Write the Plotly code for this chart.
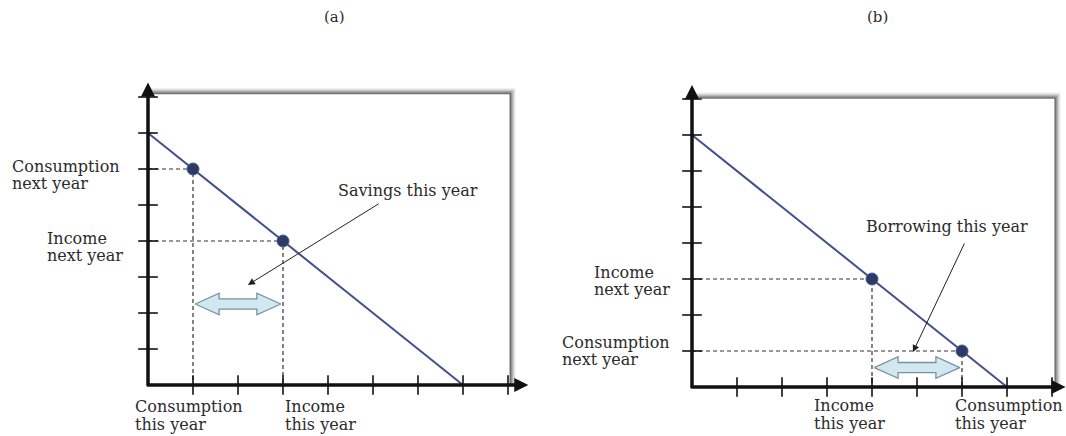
import plotly.graph_objects as go

# ---------------- data ----------------
tick_vals = [1, 2, 3, 4, 5, 6, 7, 8]

# Panel (a): saving
a_budget_x = [0, 7]
a_budget_y = [7, 0]
a_points_x = [1, 3]          # consumption this year, income this year
a_points_y = [6, 4]          # consumption next year, income next year
a_flow = [1, 3]              # savings this year (from consumption to income)
a_ylabels = ["Consumption<br>next year", "Income<br>next year"]
a_xlabels = ["Consumption<br>this year", "Income<br>this year"]
a_note = "Savings this year"

# Panel (b): borrowing
b_budget_x = [0, 7]
b_budget_y = [7, 0]
b_points_x = [4, 6]          # income this year, consumption this year
b_points_y = [3, 1]          # income next year, consumption next year
b_flow = [4, 6]              # borrowing this year
b_ylabels = ["Income<br>next year", "Consumption<br>next year"]
b_xlabels = ["Income<br>this year", "Consumption<br>this year"]
b_note = "Borrowing this year"

titles = ["(a)", "(b)"]

# ---------------- style / layout ----------------
W, H = 1066, 436
SX, SY = 45.0, 36.0
FONT = "DejaVu Serif"
TXT = "#2b2b2b"
LINE_C = "#40508f"
DOT_C = "#2b3a66"

panels = [
    dict(xa="x", ya="y", xk="xaxis", yk="yaxis", dom=(0, 533), ox=148, oy=385,
         bx=a_budget_x, by=a_budget_y, px=a_points_x, py=a_points_y, flow=a_flow,
         ylabels=a_ylabels, xlabels=a_xlabels, note=a_note, title=titles[0],
         ylab_off=[(-138, 6), (-103, 6)], xlab_off=[(-60, 30), (0, 30)],
         flow_y=2.25, box=(8.05, 8.1), yarrow=8.4, xarrow=8.45,
         note_xy=(5.78, 5.39), note_tail=(5.16, 5.06), note_head=(2.22, 2.78),
         title_px=334),
    dict(xa="x2", ya="y2", xk="xaxis2", yk="yaxis2", dom=(533, 1066), ox=692, oy=387,
         bx=b_budget_x, by=b_budget_y, px=b_points_x, py=b_points_y, flow=b_flow,
         ylabels=b_ylabels, xlabels=b_xlabels, note=b_note, title=titles[1],
         ylab_off=[(-100, 2), (-132, 0)], xlab_off=[(-60, 27), (-9, 27)],
         flow_y=0.54, box=(8.07, 8.03), yarrow=8.39, xarrow=8.3,
         note_xy=(5.67, 4.47), note_tail=(6.07, 4.03), note_head=(4.91, 0.97),
         title_px=877),
]

fig = go.Figure()
shapes = []
annotations = []
layout_axes = {}


def add_label(text, xv, yv, xref, yref, dx, dy, gap):
    lines = text.split("<br>")
    n = len(lines)
    for i, ln in enumerate(lines):
        off = dy + (i - (n - 1) / 2.0) * gap
        annotations.append(dict(x=xv, y=yv, xref=xref, yref=yref, text=ln,
                                showarrow=False, xanchor="left", yanchor="middle",
                                xshift=dx, yshift=-off,
                                font=dict(family=FONT, size=16, color=TXT)))


for p in panels:
    xa, ya = p["xa"], p["ya"]
    d0, d1 = p["dom"]
    layout_axes[p["xk"]] = dict(domain=[d0 / W, d1 / W],
                                range=[(d0 - p["ox"]) / SX, (d1 - p["ox"]) / SX],
                                visible=False, fixedrange=True, anchor=ya)
    layout_axes[p["yk"]] = dict(domain=[0, 1],
                                range=[(p["oy"] - H) / SY, p["oy"] / SY],
                                visible=False, fixedrange=True, anchor=xa)

    # box with shadow (top and right)
    bw, bh = p["box"]
    alphas = [0.8, 0.55, 0.38, 0.24, 0.13, 0.06]
    for k, al in enumerate(alphas):
        col = "rgba(85,85,85,%.2f)" % al
        shapes.append(dict(type="line", xref=xa, yref=ya, x0=0, x1=bw + k / SX,
                           y0=bh + k / SY, y1=bh + k / SY, line=dict(color=col, width=1.5)))
        shapes.append(dict(type="line", xref=xa, yref=ya, x0=bw + k / SX, x1=bw + k / SX,
                           y0=0, y1=bh + k / SY, line=dict(color=col, width=1.5)))

    # dashed guides from points to axes
    gx, gy = [], []
    for xv, yv in zip(p["px"], p["py"]):
        gx += [0, xv, xv, None]
        gy += [yv, yv, 0, None]
    fig.add_trace(go.Scatter(x=gx, y=gy, xaxis=xa, yaxis=ya, mode="lines",
                             line=dict(color="#333333", width=1.2, dash="4px,3px"),
                             hoverinfo="skip", showlegend=False))

    # block double arrow for the flow
    f0, f1 = p["flow"]
    inset, hl, hh, sh = 0.05, 0.53, 0.30, 0.14
    a_, b_ = f0 + inset, f1 - inset
    yc = p["flow_y"]
    axs = [a_, a_ + hl, a_ + hl, b_ - hl, b_ - hl, b_, b_ - hl, b_ - hl, a_ + hl, a_ + hl, a_]
    ays = [yc, yc + hh, yc + sh, yc + sh, yc + hh, yc, yc - hh, yc - sh, yc - sh, yc - hh, yc]
    fig.add_trace(go.Scatter(x=axs, y=ays, xaxis=xa, yaxis=ya, mode="lines", fill="toself",
                             fillcolor="#d4e7ef", line=dict(color="#7393a6", width=1.3),
                             hoverinfo="skip", showlegend=False))

    # budget line
    fig.add_trace(go.Scatter(x=p["bx"], y=p["by"], xaxis=xa, yaxis=ya, mode="lines",
                             line=dict(color=LINE_C, width=2),
                             hoverinfo="skip", showlegend=False))
    # points
    fig.add_trace(go.Scatter(x=p["px"], y=p["py"], xaxis=xa, yaxis=ya, mode="markers",
                             marker=dict(color=DOT_C, size=12,
                                         line=dict(color="#4a5a86", width=1)),
                             hoverinfo="skip", showlegend=False))
    # tick marks
    fig.add_trace(go.Scatter(x=[0] * len(tick_vals), y=tick_vals, xaxis=xa, yaxis=ya,
                             mode="markers",
                             marker=dict(symbol="line-ew", size=14,
                                         line=dict(color="#111111", width=1.6)),
                             hoverinfo="skip", showlegend=False))
    fig.add_trace(go.Scatter(x=tick_vals, y=[0] * len(tick_vals), xaxis=xa, yaxis=ya,
                             mode="markers",
                             marker=dict(symbol="line-ns", size=14,
                                         line=dict(color="#111111", width=1.6)),
                             hoverinfo="skip", showlegend=False))

    # axes with arrowheads
    annotations.append(dict(x=0, y=p["yarrow"], ax=0, ay=-0.06, xref=xa, yref=ya,
                            axref=xa, ayref=ya, text="", showarrow=True, arrowhead=2,
                            arrowsize=0.8, arrowwidth=3.5, arrowcolor="#111111", standoff=0))
    annotations.append(dict(x=p["xarrow"], y=0, ax=-0.06, ay=0, xref=xa, yref=ya,
                            axref=xa, ayref=ya, text="", showarrow=True, arrowhead=2,
                            arrowsize=0.8, arrowwidth=3.5, arrowcolor="#111111", standoff=0))

    # labels on axes
    for lab, yv, (dx, dy) in zip(p["ylabels"], p["py"], p["ylab_off"]):
        add_label(lab, 0, yv, xa, ya, dx, dy, 17.5)
    for lab, xv, (dx, dy) in zip(p["xlabels"], p["px"], p["xlab_off"]):
        add_label(lab, xv, 0, xa, ya, dx, dy, 18)

    # note with arrow
    nx, ny = p["note_xy"]
    annotations.append(dict(x=nx, y=ny, xref=xa, yref=ya, text=p["note"], showarrow=False,
                            xanchor="center", yanchor="middle",
                            font=dict(family=FONT, size=16, color=TXT)))
    hx, hy = p["note_head"]
    tx, ty = p["note_tail"]
    annotations.append(dict(x=hx, y=hy, ax=tx, ay=ty, xref=xa, yref=ya, axref=xa, ayref=ya,
                            text="", showarrow=True, arrowhead=2, arrowsize=1.4,
                            arrowwidth=1, arrowcolor="#222222", standoff=0))

    # panel title
    annotations.append(dict(x=p["title_px"] / W, y=1 - 17 / H, xref="paper", yref="paper",
                            text=p["title"], showarrow=False, xanchor="center",
                            yanchor="middle", font=dict(family=FONT, size=15, color=TXT)))

fig.update_layout(width=W, height=H, margin=dict(l=0, r=0, t=0, b=0),
                  paper_bgcolor="white", plot_bgcolor="white",
                  showlegend=False, shapes=shapes, annotations=annotations,
                  **layout_axes)

fig.write_html("out.html", config={"displayModeBar": False},
               post_script="document.body.style.margin='0';document.body.style.overflow='hidden';")
